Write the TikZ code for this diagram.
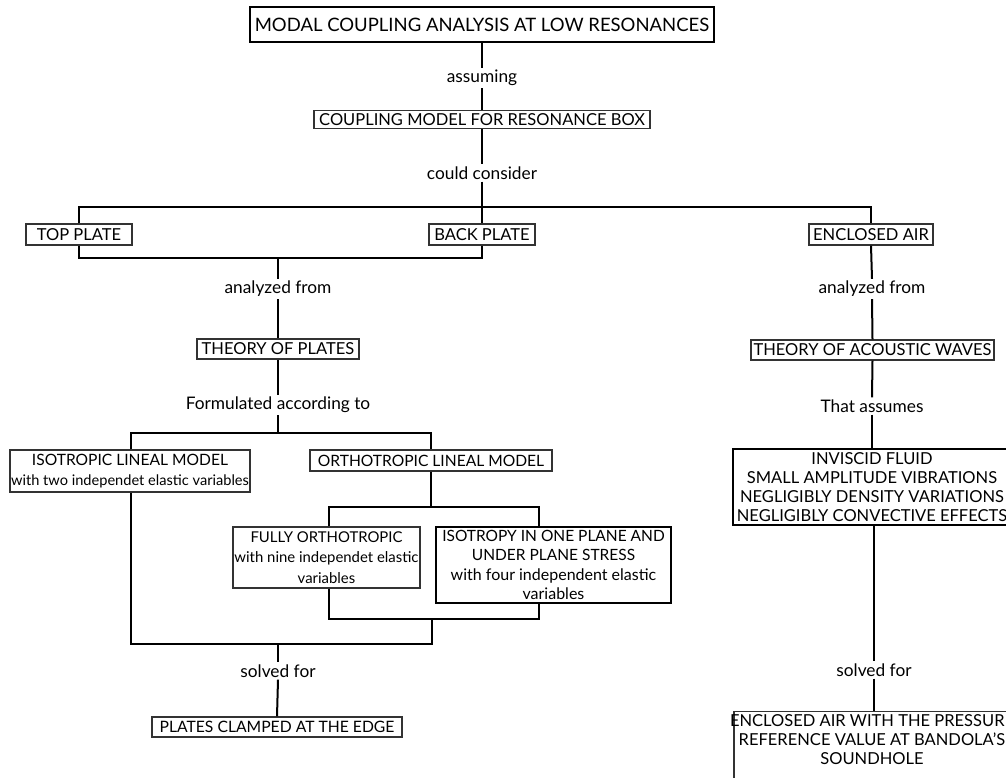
\documentclass[tikz,border=0pt]{standalone}
\usepackage{fontspec}
\setmainfont{Lato}
\newcommand\myfs{\fontsize{16.5}{19}\selectfont}
\newcommand\mylabfs{\fontsize{17.3}{19}\selectfont}
\newcommand\mytitlefs{\fontsize{18.5}{21}\selectfont}
\newcommand\fsz[2]{\fontsize{#1}{#2}\selectfont}
\begin{document}
\begin{tikzpicture}[x=1pt,y=-1pt,
  box/.style={draw=black!80, line width=1.1pt, inner sep=0pt, align=center, font=\myfs, text=black},
  thickbox/.style={box, draw=black, line width=1.8pt},
  lab/.style={fill=white, inner sep=2pt, font=\mylabfs, text=black},
  conn/.style={line width=2pt, black}]
\useasboundingbox (0,0) rectangle (1006,777);
\clip (0,0) rectangle (1006,777);
\fill[white] (0,0) rectangle (1006,777);

% nodes
\node[thickbox, font=\mytitlefs, minimum width=464pt, minimum height=35pt] (title) at (482,24.5) {MODAL COUPLING ANALYSIS AT LOW RESONANCES};
\node[box, minimum width=336pt, minimum height=18pt] (coup) at (482,119.5) {COUPLING MODEL FOR RESONANCE BOX};
\node[box, minimum width=106pt, minimum height=21pt] (top) at (79,234.5) {TOP PLATE};
\node[box, minimum width=106pt, minimum height=21pt] (back) at (482,234.5) {BACK PLATE};
\node[box, minimum width=124pt, minimum height=21pt] (encl) at (871,234.5) {ENCLOSED AIR};
\node[box, minimum width=162pt, minimum height=20pt] (plates) at (278,349) {THEORY OF PLATES};
\node[box, minimum width=243pt, minimum height=20pt] (acou) at (872.5,350) {THEORY OF ACOUSTIC WAVES};
\node[box, minimum width=240pt, minimum height=42pt, font=\fsz{15.6}{20}] (iso) at (130,471) {ISOTROPIC LINEAL MODEL\\{\fsz{14.6}{20}with two independet elastic variables}};
\node[box, minimum width=242pt, minimum height=21pt, font=\fsz{15.6}{19}] (ortho) at (431,460.5) {ORTHOTROPIC LINEAL MODEL};
\node[box, minimum width=187pt, minimum height=61pt, font=\fsz{14.9}{20.5}] (fully) at (326.5,557.5) {FULLY ORTHOTROPIC\\with nine independet elastic\\variables};
\node[thickbox, minimum width=235pt, minimum height=76pt, font=\fsz{15.5}{19.3}] (isop) at (553.5,565) {ISOTROPY IN ONE PLANE AND\\UNDER PLANE STRESS\\{\fsz{16}{19.3}with four independent elastic}\\{\fsz{16}{19.3}variables}};
\node[thickbox, minimum width=278pt, minimum height=76pt] (invis) at (872,487) {INVISCID FLUID\\SMALL AMPLITUDE VIBRATIONS\\NEGLIGIBLY DENSITY VARIATIONS\\NEGLIGIBLY CONVECTIVE EFFECTS};
\node[box, minimum width=250pt, minimum height=20pt, font=\fsz{15.7}{19}] (clamp) at (277,727) {PLATES CLAMPED AT THE EDGE};
\node[box, anchor=north, minimum width=276pt, minimum height=80pt] (press) at (872,711) {};
\node[font=\myfs, align=center, anchor=north, inner sep=0pt] (presstxt) at (872,714) {ENCLOSED AIR WITH THE PRESSURE\\REFERENCE VALUE AT BANDOLA'S\\SOUNDHOLE};

% labels
\node[lab] (l1) at (482,78) {assuming};
\node[lab] (l2) at (482,173) {could consider};
\node[lab] (l3) at (278,289) {analyzed from};
\node[lab] (l4) at (872,289) {analyzed from};
\node[lab] (l5) at (278,405) {Formulated according to};
\node[lab] (l6) at (872,406) {That assumes};
\node[lab] (l7) at (278,671) {solved for};
\node[lab] (l8) at (874,670) {solved for};

% bracket coordinates
\coordinate (b1) at (482,207);
\coordinate (b2) at (278,258);
\coordinate (b3) at (278,433);
\coordinate (b4) at (431,507);
\coordinate (b5) at (432,619);
\coordinate (b6) at (278,644);

\begin{scope}[on background layer/.try]
\draw[conn] (title.south) -- (l1.north);
\draw[conn] (l1.south) -- (coup.north);
\draw[conn] (coup.south) -- (l2.north);
\draw[conn] (l2.south) -- (b1);
\draw[conn] (top.north) |- (b1) -| (encl.north);
\draw[conn] (b1) -- (back.north);
\draw[conn] (top.south) |- (b2) -| (back.south);
\draw[conn] (b2) -- (l3.north);
\draw[conn] (l3.south) -- (plates.north);
\draw[conn] (plates.south) -- (l5.north);
\draw[conn] (l5.south) -- (b3);
\draw[conn] (iso.north -| 131,0) |- (b3) -| (ortho.north);
\draw[conn] (ortho.south) -- (b4);
\draw[conn] (fully.north -| 329,0) |- (b4) -| (isop.north -| 539,0);
\draw[conn] (fully.south -| 329,0) |- (b5) -| (isop.south -| 539,0);
\draw[conn] (b5) -- (b6 -| b5);
\draw[conn] (iso.south -| 131,0) |- (b6) -| (b5);
\draw[conn] (b6) -- (l7.north);
\draw[conn] (l7.south) -- (clamp.north);
\draw[conn] (encl.south) -- (l4.north);
\draw[conn] (l4.south) -- (acou.north);
\draw[conn] (acou.south) -- (l6.north);
\draw[conn] (l6.south) -- (invis.north);
\draw[conn] (invis.south -| 874,0) -- (l8.north);
\draw[conn] (l8.south) -- (press.north -| l8);
\end{scope}
\end{tikzpicture}
\end{document}
